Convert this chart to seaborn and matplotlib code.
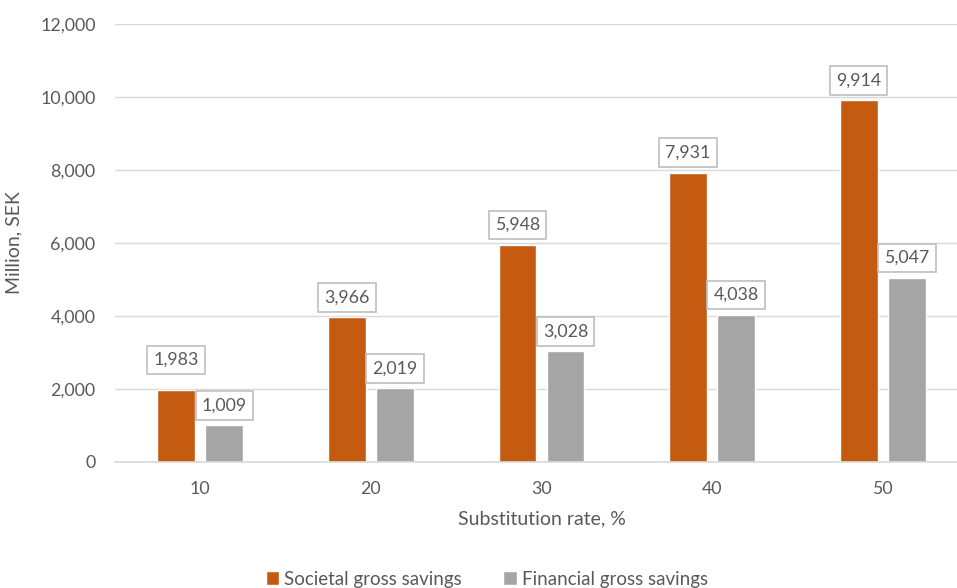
import matplotlib
matplotlib.use("Agg")
import matplotlib.pyplot as plt
import seaborn as sns
import pandas as pd

# Data
rates = ["10", "20", "30", "40", "50"]
societal = [1983, 3966, 5948, 7931, 9914]
financial = [1009, 2019, 3028, 4038, 5047]
series_names = ["Societal gross savings", "Financial gross savings"]

df = pd.DataFrame({
    "rate": rates * 2,
    "value": societal + financial,
    "series": [series_names[0]] * len(rates) + [series_names[1]] * len(rates),
})

sns.set_theme(style="white")
plt.rcParams["font.family"] = ["Lato", "DejaVu Sans"]
TEXT = "#595959"
GRID = "#D9D9D9"

fig = plt.figure(figsize=(9.57, 5.88), dpi=100)
W, H = 957, 588
ax = fig.add_axes([115 / W, 126 / H, (968 - 115) / W, (462 - 24) / H])

sns.barplot(
    data=df, x="rate", y="value", hue="series", order=rates,
    hue_order=series_names, palette=["#C55A11", "#A5A5A5"],
    width=0.563, gap=0.21, saturation=1, ax=ax, legend=True,
)

ax.set_ylim(0, 12000)
ax.set_yticks(range(0, 12001, 2000))
ax.set_yticklabels([f"{v:,}" for v in range(0, 12001, 2000)])
ax.yaxis.grid(True, color=GRID, linewidth=1)
ax.set_axisbelow(True)
for s in ["top", "right", "left"]:
    ax.spines[s].set_visible(False)
ax.spines["bottom"].set_color(GRID)
ax.spines["bottom"].set_linewidth(1.2)
ax.tick_params(axis="both", length=0, labelsize=12.8, labelcolor=TEXT)
ax.tick_params(axis="y", pad=14)
ax.tick_params(axis="x", pad=14)

ax.set_xlabel("Substitution rate, %", fontsize=14, color=TEXT, labelpad=9)
ax.set_ylabel("Million, SEK", fontsize=14, color=TEXT)
ax.yaxis.set_label_coords(-(115 - 22) / (968 - 115), 0.5)

# Boxed value labels above each bar
extra_lift = {(0, 0): 7}
for si, (container, vals) in enumerate(zip(ax.containers, [societal, financial])):
    for ci, (bar, v) in enumerate(zip(container, vals)):
        ax.annotate(
            f"{v:,}",
            xy=(bar.get_x() + bar.get_width() / 2, v),
            xytext=(0, 8.5 + extra_lift.get((si, ci), 0)),
            textcoords="offset points", ha="center", va="bottom",
            fontsize=12.8, color=TEXT,
            bbox=dict(boxstyle="square,pad=0.35", fc="white", ec="#BFBFBF", lw=1.2),
        )

handles, labels = ax.get_legend_handles_labels()
ax.get_legend().remove()
fig.legend(
    handles, labels, loc="center", bbox_to_anchor=(487 / W, 1 - 579 / H),
    ncol=2, frameon=False, fontsize=13.5, labelcolor=TEXT,
    handlelength=0.7, handleheight=0.7, handletextpad=0.3, columnspacing=2.2,
)

fig.savefig("out.png", dpi=100)
